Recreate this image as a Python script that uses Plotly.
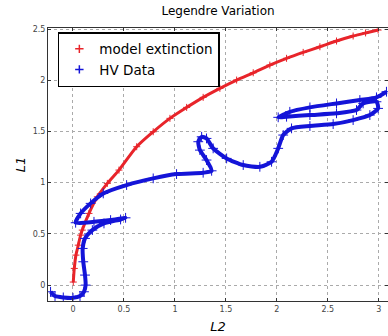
import plotly.graph_objects as go

# Red "model extinction" curve (L2, L1)
model_l2 = [0.003, 0.013, 0.029, 0.052, 0.075, 0.091, 0.157, 0.239, 0.337, 0.451,
            0.625, 0.787, 0.951, 1.115, 1.277, 1.441, 1.605, 1.768, 1.931, 2.095,
            2.258, 2.422, 2.585, 2.748, 2.87, 2.993]
model_l1 = [0.03, 0.163, 0.293, 0.39, 0.488, 0.537, 0.70, 0.862, 0.993, 1.123,
            1.351, 1.497, 1.628, 1.735, 1.833, 1.921, 2.002, 2.073, 2.148, 2.214,
            2.272, 2.327, 2.383, 2.432, 2.462, 2.49]

# Blue "HV Data" path (L2, L1), in order
hv_l2 = [-0.22, -0.176, -0.095, 0.0, 0.069, 0.108, 0.124, 0.118, 0.101, 0.095,
         0.118, 0.19, 0.304, 0.467, 0.516, 0.369, 0.206, 0.026, 0.075, 0.173,
         0.297, 0.526, 0.787, 1.016, 1.277, 1.36, 1.31, 1.245, 1.229, 1.262,
         1.31, 1.375, 1.507, 1.67, 1.833, 1.948, 2.013, 2.062, 2.144, 2.324,
         2.552, 2.748, 2.912, 2.993, 2.977, 2.846, 2.781, 2.585, 2.324, 2.095,
         2.013, 2.127, 2.324, 2.585, 2.814, 2.977, 3.075]
hv_l1 = [-0.065, -0.107, -0.12, -0.124, -0.107, -0.065, 0.0, 0.098, 0.228, 0.358,
         0.456, 0.537, 0.602, 0.641, 0.657, 0.635, 0.618, 0.609, 0.70, 0.798,
         0.895, 0.977, 1.042, 1.084, 1.097, 1.116, 1.221, 1.318, 1.40, 1.448,
         1.432, 1.335, 1.237, 1.172, 1.155, 1.204, 1.335, 1.465, 1.53, 1.553,
         1.572, 1.611, 1.66, 1.725, 1.79, 1.774, 1.709, 1.677, 1.66, 1.644,
         1.638, 1.692, 1.735, 1.774, 1.807, 1.833, 1.888]

x_ticks = [0, 0.5, 1, 1.5, 2, 2.5, 3]
x_tick_labels = ["0", "0.5", "1", "1.5", "2", "2.5", "3"]
y_ticks = [0, 0.5, 1, 1.5, 2, 2.5]
y_tick_labels = ["0", "0.5", "1", "1.5", "2", "2.5"]

RED = "#e8242a"
BLUE = "#1414d8"
FONT = "DejaVu Sans"

fig = go.Figure()
fig.add_trace(go.Scatter(
    x=model_l2, y=model_l1, mode="lines+markers", showlegend=False,
    line=dict(color=RED, width=3, shape="spline", smoothing=0.8),
    marker=dict(symbol="cross-thin", size=5, line=dict(color=RED, width=1)),
))
fig.add_trace(go.Scatter(
    x=hv_l2, y=hv_l1, mode="lines+markers", showlegend=False,
    line=dict(color=BLUE, width=4, shape="spline", smoothing=0.6),
    marker=dict(symbol="cross-thin", size=7, line=dict(color=BLUE, width=1)),
))
# legend entries
fig.add_trace(go.Scatter(
    x=[None], y=[None], mode="markers", name="model extinction",
    marker=dict(symbol="cross-thin", size=6, line=dict(color=RED, width=1.5)),
))
fig.add_trace(go.Scatter(
    x=[None], y=[None], mode="markers", name="HV Data",
    marker=dict(symbol="cross-thin", size=6, line=dict(color=BLUE, width=1.5)),
))

axis_common = dict(
    showline=True, linecolor="#333", linewidth=1, mirror="ticks",
    ticks="inside", ticklen=3, tickcolor="#333",
    showgrid=True, gridcolor="#aaa", griddash="dot", gridwidth=1,
    zeroline=False, tickfont=dict(family=FONT, size=8, color="#444"),
)

fig.update_layout(
    width=388, height=336,
    margin=dict(l=48, r=0, t=28, b=35),
    paper_bgcolor="white", plot_bgcolor="white",
    font=dict(family=FONT, color="black"),
    title=dict(text="Legendre Variation", x=0.5, xref="paper", y=1 - 11 / 336,
               yref="container", yanchor="middle", xanchor="center",
               font=dict(family=FONT, size=12, color="black")),
    xaxis=dict(range=[-0.245, 3.09], tickvals=x_ticks, ticktext=x_tick_labels,
               title=dict(text="<i>L2</i>", font=dict(family=FONT, size=13), standoff=9),
               **axis_common),
    yaxis=dict(range=[-0.155, 2.51], tickvals=y_ticks, ticktext=y_tick_labels,
               title=dict(text="<i>L1</i>", font=dict(family=FONT, size=13), standoff=4),
               **axis_common),
    legend=dict(x=0.029, y=0.985, xanchor="left", yanchor="top",
                bordercolor="black", borderwidth=1.5, bgcolor="white",
                font=dict(family=FONT, size=13.5), itemwidth=30,
                tracegroupgap=0),
)

fig.write_html("out.html")
